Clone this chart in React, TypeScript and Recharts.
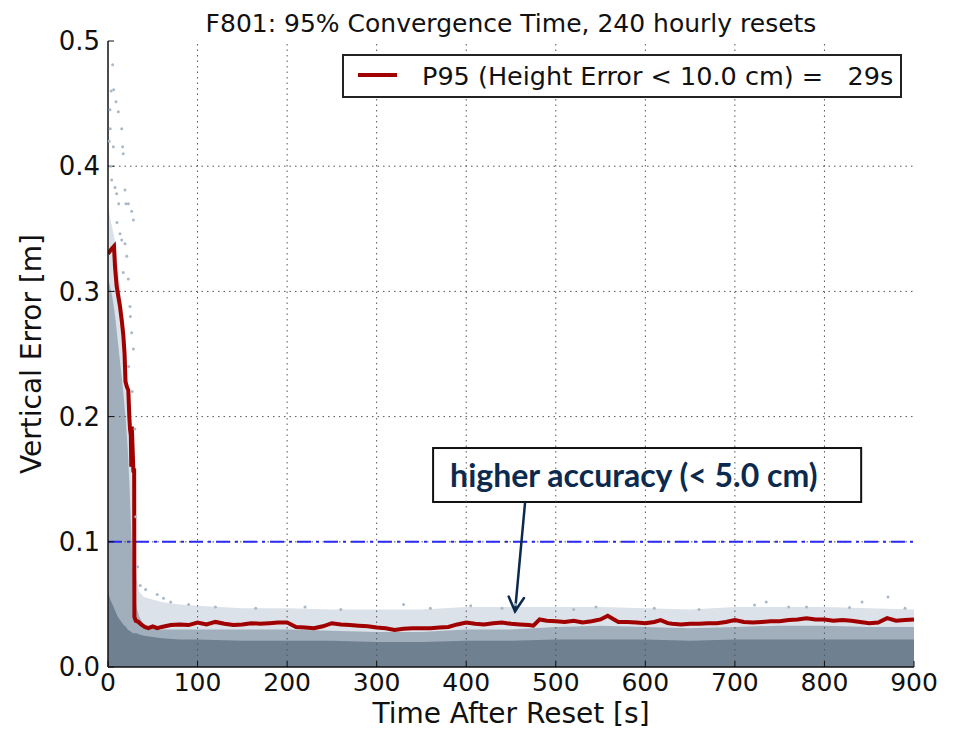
import React from 'react';
import {
  ComposedChart,
  Area,
  Line,
  Scatter,
  XAxis,
  YAxis,
  ReferenceLine,
  ReferenceArea,
} from 'recharts';

const xTicks = [0, 100, 200, 300, 400, 500, 600, 700, 800, 900];
const yTicks = [0, 0.1, 0.2, 0.3, 0.4, 0.5];
const gridX = [100, 200, 300, 400, 500, 600, 700, 800];
const gridY = [0.1, 0.2, 0.3, 0.4];

// P95 of the vertical error
const p95T = [
  0, 3, 6.7, 7.8, 9.7, 11.5, 13.4, 15.5, 17.1, 18.5, 19.5, 21, 22.7, 23.8, 24.6, 25.5, 26, 26.6, 27.3, 28.3,
  29.2, 29.5, 31, 34, 37, 41, 45, 50, 55, 60, 70, 80, 90, 100, 110, 120, 130, 140, 150, 160, 170, 180, 190,
  200, 210, 220, 230, 240, 250, 260, 270, 280, 290, 300, 310, 320, 330, 340, 350, 360, 370, 380, 390, 400,
  410, 420, 430, 440, 450, 460, 470, 475, 482, 490, 500, 510, 520, 530, 540, 550, 558, 565, 570, 580, 590,
  600, 610, 617, 625, 630, 640, 650, 660, 670, 680, 690, 700, 710, 720, 730, 740, 750, 760, 770, 780, 790,
  800, 810, 820, 830, 840, 850, 860, 870, 880, 890, 900,
];
const p95V = [
  0.33, 0.333, 0.336, 0.32, 0.304, 0.296, 0.288, 0.276, 0.265, 0.25, 0.228, 0.224, 0.221, 0.2, 0.19, 0.185,
  0.16, 0.192, 0.178, 0.157, 0.157, 0.04, 0.037, 0.036, 0.034, 0.032, 0.031, 0.0325, 0.031, 0.032, 0.0335,
  0.034, 0.0335, 0.0355, 0.034, 0.036, 0.0345, 0.0335, 0.034, 0.035, 0.0345, 0.035, 0.0355, 0.0355, 0.032,
  0.0315, 0.031, 0.0325, 0.035, 0.034, 0.0335, 0.033, 0.0325, 0.0315, 0.031, 0.0295, 0.0305, 0.031, 0.031,
  0.031, 0.0315, 0.032, 0.034, 0.0355, 0.0345, 0.034, 0.035, 0.0355, 0.0345, 0.034, 0.0335, 0.033, 0.038,
  0.037, 0.0365, 0.036, 0.037, 0.0355, 0.0365, 0.038, 0.041, 0.038, 0.036, 0.036, 0.0355, 0.035, 0.036,
  0.0375, 0.035, 0.0345, 0.034, 0.0345, 0.0345, 0.035, 0.035, 0.036, 0.0375, 0.036, 0.0355, 0.036, 0.0365,
  0.0365, 0.0375, 0.038, 0.039, 0.038, 0.038, 0.037, 0.0375, 0.037, 0.036, 0.035, 0.0355, 0.039, 0.037,
  0.0375, 0.038,
];

// envelopes of the scatter cloud (light fringe, speckled body, solid core)
const cloudT = [
  0, 2, 5, 8, 11, 14, 17, 20, 22, 24, 26, 28, 30, 32, 35, 40, 50, 60, 80, 100, 150, 200, 250, 300, 350, 400,
  450, 500, 550, 600, 650, 700, 750, 800, 850, 900,
];
const cloudOuter = [
  0.37, 0.36, 0.35, 0.34, 0.32, 0.3, 0.28, 0.255, 0.23, 0.2, 0.16, 0.12, 0.09, 0.07, 0.06, 0.056, 0.054, 0.052,
  0.05, 0.049, 0.047, 0.047, 0.046, 0.046, 0.046, 0.048, 0.048, 0.048, 0.048, 0.047, 0.046, 0.048, 0.048,
  0.048, 0.047, 0.046,
];
const cloudMid = [
  0.31, 0.305, 0.295, 0.28, 0.26, 0.24, 0.22, 0.195, 0.175, 0.145, 0.105, 0.075, 0.058, 0.047, 0.04, 0.034,
  0.031, 0.03, 0.03, 0.03, 0.03, 0.03, 0.029, 0.028, 0.028, 0.03, 0.03, 0.032, 0.033, 0.032, 0.031, 0.032,
  0.033, 0.033, 0.032, 0.032,
];
const cloudCore = [
  0.06, 0.055, 0.05, 0.045, 0.04, 0.037, 0.034, 0.032, 0.03, 0.029, 0.028, 0.027, 0.027, 0.027, 0.026, 0.025,
  0.024, 0.023, 0.022, 0.022, 0.021, 0.021, 0.021, 0.02, 0.02, 0.021, 0.021, 0.022, 0.022, 0.022, 0.021,
  0.022, 0.022, 0.022, 0.022, 0.022,
];

// isolated points of the cloud
const dotT = [
  5.2, 6.3, 8.9, 11.5, 2.2, 15.3, 16.4, 17, 5.9, 4.1, 7.8, 9.7, 19, 20, 22.7, 26.4, 28.3, 13.4, 15.3, 19, 20.9,
  17, 22.7, 24.6, 26.4, 28.3, 3, 1.5, 10, 12, 3.5, 2.5, 25, 23, 27, 30, 31, 33, 36, 42, 55, 62, 70, 90, 120,
  165, 220, 260, 330, 360, 405, 440, 455, 520, 545, 610, 660, 722, 735, 760, 780, 828, 842, 871, 890,
];
const dotV = [
  0.481, 0.461, 0.4515, 0.4435, 0.445, 0.43, 0.4156, 0.41, 0.4156, 0.389, 0.383, 0.378, 0.381, 0.37, 0.37,
  0.364, 0.357, 0.346, 0.341, 0.338, 0.328, 0.315, 0.31, 0.288, 0.267, 0.254, 0.4, 0.42, 0.355, 0.37, 0.46,
  0.43, 0.28, 0.24, 0.22, 0.19, 0.12, 0.08, 0.065, 0.062, 0.058, 0.055, 0.052, 0.05, 0.048, 0.047, 0.048,
  0.046, 0.05, 0.047, 0.049, 0.047, 0.05, 0.046, 0.048, 0.047, 0.046, 0.0495, 0.052, 0.048, 0.048, 0.0475,
  0.052, 0.056, 0.047,
];

const p95Rows = p95T.map((t, i) => ({ t, v: p95V[i] }));
const cloudRows = cloudT.map((t, i) => ({ t, outer: cloudOuter[i], mid: cloudMid[i], core: cloudCore[i] }));
const dotRows = dotT.map((t, i) => ({ t, v: dotV[i] }));

const FONT = 'DejaVu Sans';
const NAVY = '#0c2a4d';
const RED = '#a00000';
const legendText = 'P95 (Height Error < 10.0 cm) =   29s';

const ArrowShape = (p: any) => {
  const { x1, y1, x2, y2 } = p;
  const ang = Math.atan2(y2 - y1, x2 - x1);
  const len = 16;
  const spread = 0.5;
  const ax = x2 - len * Math.cos(ang - spread);
  const ay = y2 - len * Math.sin(ang - spread);
  const bx = x2 - len * Math.cos(ang + spread);
  const by = y2 - len * Math.sin(ang + spread);
  return (
    <g stroke={NAVY} strokeWidth={2.5} fill="none" strokeLinecap="round">
      <line x1={x1} y1={y1} x2={x2} y2={y2} />
      <polyline points={`${ax},${ay} ${x2},${y2} ${bx},${by}`} />
    </g>
  );
};

const NoteBox = (p: any) => (
  <g>
    <rect x={p.x} y={p.y} width={p.width} height={p.height} fill="none" stroke="#111" strokeWidth={2} />
    <text
      x={p.x + 17}
      y={p.y + p.height / 2}
      dy="0.36em"
      fill={NAVY}
      fontFamily="Lato"
      fontWeight={700}
      fontSize={32}
    >
      higher accuracy (&lt; 5.0 cm)
    </text>
  </g>
);

export default function App() {
  return (
    <div style={{ position: 'absolute', left: 0, top: 0, width: 961, height: 730, background: '#fff' }}>
      <div
        style={{
          position: 'absolute',
          left: 108,
          width: 806,
          top: 11,
          textAlign: 'center',
          fontFamily: FONT,
          fontSize: 25,
          lineHeight: 1,
          color: '#111',
          whiteSpace: 'nowrap',
        }}
      >
        F801: 95% Convergence Time, 240 hourly resets
      </div>
      <ComposedChart
        width={961}
        height={730}
        margin={{ top: 41, right: 47, bottom: 0, left: 0 }}
        style={{ fontFamily: FONT }}
      >
        <XAxis
          xAxisId={0}
          type="number"
          dataKey="t"
          domain={[0, 900]}
          ticks={xTicks}
          allowDataOverflow
          height={63}
          tickSize={-6}
          tickMargin={12}
          tick={{ fontSize: 25, fill: '#111' }}
          axisLine={{ stroke: '#111', strokeWidth: 1.5 }}
          tickLine={{ stroke: '#111' }}
          label={{ value: 'Time After Reset [s]', position: 'insideBottom', offset: 7, fontSize: 28, fill: '#111' }}
        />
        <XAxis
          xAxisId="top"
          orientation="top"
          type="number"
          domain={[0, 900]}
          ticks={xTicks}
          allowDataOverflow
          height={0}
          tick={false}
          tickSize={-6}
          axisLine={{ stroke: '#111', strokeWidth: 1.5 }}
          tickLine={{ stroke: '#111' }}
        />
        <YAxis
          yAxisId={0}
          type="number"
          domain={[0, 0.5]}
          ticks={yTicks}
          allowDataOverflow
          width={108}
          tickSize={-6}
          tickMargin={14}
          tickFormatter={(v: number) => v.toFixed(1)}
          tick={{ fontSize: 26, fill: '#111' }}
          axisLine={{ stroke: '#111', strokeWidth: 1.5 }}
          tickLine={{ stroke: '#111' }}
          label={{
            value: 'Vertical Error [m]',
            angle: -90,
            position: 'insideLeft',
            offset: 31,
            fontSize: 28,
            fill: '#111',
            style: { textAnchor: 'middle' },
          }}
        />
        <YAxis
          yAxisId="right"
          orientation="right"
          type="number"
          domain={[0, 0.5]}
          ticks={yTicks}
          allowDataOverflow
          width={0}
          tick={false}
          tickSize={-6}
          axisLine={{ stroke: '#111', strokeWidth: 1.5 }}
          tickLine={{ stroke: '#111' }}
        />

        <Area data={cloudRows} dataKey="outer" type="linear" stroke="none" fill="#dbe2e9" fillOpacity={1}
          dot={false} activeDot={false} isAnimationActive={false} />
        <Area data={cloudRows} dataKey="mid" type="linear" stroke="none" fill="#a1aebb" fillOpacity={1}
          dot={false} activeDot={false} isAnimationActive={false} />
        <Area data={cloudRows} dataKey="core" type="linear" stroke="none" fill="#6f8091" fillOpacity={1}
          dot={false} activeDot={false} isAnimationActive={false} />
        <Scatter
          data={dotRows}
          dataKey="v"
          isAnimationActive={false}
          shape={(p: any) => <circle cx={p.cx} cy={p.cy} r={1.5} fill="#a9b9c8" />}
        />

        {gridX.map((x) => (
          <ReferenceLine key={`gx${x}`} x={x} stroke="#555" strokeWidth={1} strokeDasharray="1.5 4" />
        ))}
        {gridY.map((y) => (
          <ReferenceLine key={`gy${y}`} y={y} stroke="#555" strokeWidth={1} strokeDasharray="1.5 4" />
        ))}
        <ReferenceLine y={0.1} stroke="#2a2af2" strokeWidth={2} strokeDasharray="14 5 3 5" />

        <Line
          data={p95Rows}
          dataKey="v"
          name={legendText}
          type="linear"
          stroke={RED}
          strokeWidth={4}
          dot={false}
          activeDot={false}
          isAnimationActive={false}
        />

        <ReferenceArea x1={363} x2={841} y1={0.1318} y2={0.1749} shape={NoteBox} ifOverflow="visible" />
        <ReferenceLine
          segment={[
            { x: 465.6, y: 0.1305 },
            { x: 454.5, y: 0.0445 },
          ]}
          shape={ArrowShape}
        />
      </ComposedChart>

      {/* legend box, top right inside the axes */}
      <div
        style={{
          position: 'absolute',
          left: 342,
          top: 54,
          width: 560,
          height: 44,
          boxSizing: 'border-box',
          border: '2px solid #222',
          background: '#fff',
          fontFamily: FONT,
        }}
      >
        <div style={{ position: 'absolute', left: 14, top: 17, width: 39, height: 4, background: RED }} />
        <div
          style={{
            position: 'absolute',
            left: 78,
            top: 5,
            fontSize: 25.5,
            lineHeight: '30px',
            whiteSpace: 'pre',
            color: '#111',
          }}
        >
          {legendText}
        </div>
      </div>
    </div>
  );
}
